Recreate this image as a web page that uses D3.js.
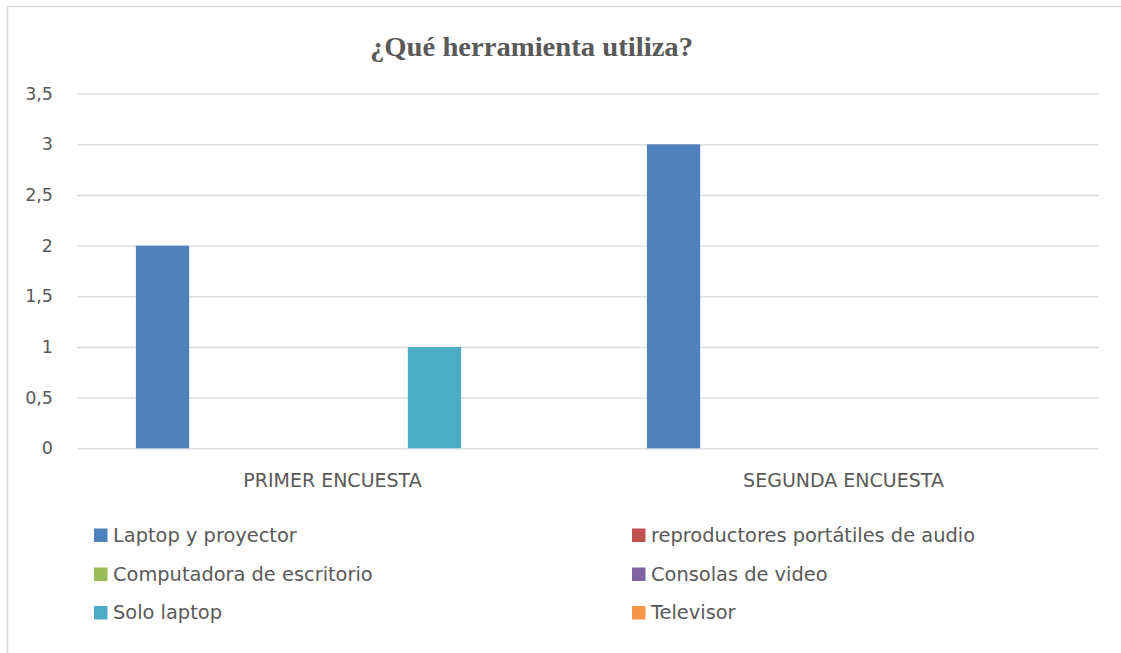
<!DOCTYPE html>
<html>
<head>
<meta charset="utf-8">
<script src="https://cdn.jsdelivr.net/npm/d3@7"></script>
<style>
  body { margin: 0; background: #fff; }
  svg text { font-family: "DejaVu Sans", sans-serif; fill: #595959; }
</style>
</head>
<body>
<div id="chart"></div>
<script>
// Data
const categories = ['PRIMER ENCUESTA', 'SEGUNDA ENCUESTA'];
const seriesNames = ['Laptop y proyector', 'reproductores portátiles de audio', 'Computadora de escritorio',
    'Consolas de video', 'Solo laptop', 'Televisor'];
const seriesColors = ['#4F81BD', '#C0504D', '#9BBB59', '#8064A2', '#4BACC6', '#F79646'];
const primerValues = [2, 0, 0, 0, 1, 0];
const segundaValues = [3, 0, 0, 0, 0, 0];
const yTicks = [0, 0.5, 1, 1.5, 2, 2.5, 3, 3.5];
const chartTitle = '¿Qué herramienta utiliza?';

const valuesByCategory = [primerValues, segundaValues];

const W = 1121, H = 653;
const plot = { left: 77, right: 1099, top: 93.7, bottom: 448.3 };

const svg = d3.select('#chart').append('svg')
    .attr('width', W)
    .attr('height', H);

// Outer frame (open at right/bottom, like the cropped reference)
svg.append('rect')
    .attr('x', 7.5).attr('y', 6.5)
    .attr('width', W + 20).attr('height', H + 20)
    .attr('fill', 'none')
    .attr('stroke', '#d9d9d9')
    .attr('stroke-width', 1.5);

// Scales
const x0 = d3.scaleBand()
    .domain(categories)
    .range([plot.left, plot.right])
    .padding(0);

const x1 = d3.scaleBand()
    .domain(seriesNames)
    .range([0, x0.bandwidth()])
    .paddingInner(0.216)
    .paddingOuter(0.866);

const y = d3.scaleLinear()
    .domain([0, 3.5])
    .range([plot.bottom, plot.top]);

// Grid lines
svg.append('g')
    .attr('transform', `translate(${plot.left},0)`)
    .call(d3.axisLeft(y)
        .tickValues(yTicks)
        .tickSize(-(plot.right - plot.left))
        .tickFormat(''))
    .call(g => g.select('.domain').remove())
    .call(g => g.selectAll('line').attr('stroke', '#d9d9d9').attr('stroke-width', 1.3));

// Y axis labels
svg.append('g')
    .attr('transform', `translate(${plot.left},0)`)
    .call(d3.axisLeft(y)
        .tickValues(yTicks)
        .tickSize(0)
        .tickPadding(24)
        .tickFormat(d => String(d).replace('.', ',')))
    .call(g => g.select('.domain').remove())
    .call(g => g.selectAll('text')
        .style('font-family', '"DejaVu Sans", sans-serif')
        .style('font-size', '17.5px')
        .attr('fill', '#595959'));

// Bars
const groups = svg.append('g')
    .selectAll('g')
    .data(categories)
    .enter()
    .append('g')
    .attr('transform', d => `translate(${x0(d)},0)`);

groups.selectAll('rect')
    .data((c, i) => seriesNames.map((s, j) => ({ series: s, value: valuesByCategory[i][j], color: seriesColors[j] })))
    .enter()
    .append('rect')
    .attr('x', d => x1(d.series))
    .attr('y', d => y(d.value))
    .attr('width', x1.bandwidth())
    .attr('height', d => y(0) - y(d.value))
    .attr('fill', d => d.color);

// X axis labels
svg.append('g')
    .attr('transform', `translate(0,${plot.bottom})`)
    .call(d3.axisBottom(x0).tickSize(0).tickPadding(25))
    .call(g => g.select('.domain').remove())
    .call(g => g.selectAll('text')
        .style('font-family', '"DejaVu Sans", sans-serif')
        .style('font-size', '19px')
        .attr('fill', '#595959'));

// Title
svg.append('text')
    .attr('x', 531.5)
    .attr('y', 55.5)
    .attr('text-anchor', 'middle')
    .attr('textLength', 323)
    .attr('lengthAdjust', 'spacingAndGlyphs')
    .style('font-family', '"Liberation Serif", "Times New Roman", serif')
    .style('font-weight', 'bold')
    .style('font-size', '28px')
    .style('fill', '#595959')
    .text(chartTitle);

// Legend
const legendCols = [94, 632];
const legendRows = [535, 574, 612.5];
const legend = svg.append('g')
    .selectAll('g')
    .data(seriesNames)
    .enter()
    .append('g')
    .attr('transform', (d, i) => `translate(${legendCols[i % 2]},${legendRows[Math.floor(i / 2)]})`);

legend.append('rect')
    .attr('x', 0)
    .attr('y', -6.5)
    .attr('width', 13.5)
    .attr('height', 13.5)
    .attr('fill', (d, i) => seriesColors[i]);

legend.append('text')
    .attr('x', 19)
    .attr('dy', '0.36em')
    .style('font-size', '19.4px')
    .text(d => d);
</script>
</body>
</html>
